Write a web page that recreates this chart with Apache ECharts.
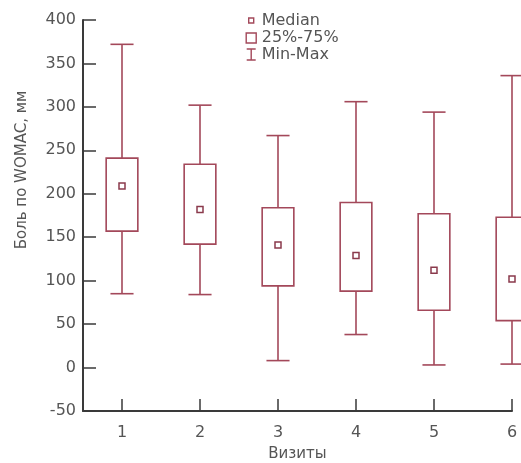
<!DOCTYPE html>
<html>
<head>
<meta charset="utf-8">
<script src="https://cdn.jsdelivr.net/npm/echarts@6/dist/echarts.min.js"></script>
<style>
html,body{margin:0;padding:0;background:#fff;}
#chart{width:521px;height:463px;}
</style>
</head>
<body>
<div id="chart"></div>
<script>
// Data
const visits = [1, 2, 3, 4, 5, 6];
const mins    = [85, 84, 8, 38, 3, 4];
const q1s     = [157, 142, 94, 88, 66, 54];
const medians = [209, 182, 141, 129, 112, 102];
const q3s     = [241, 234, 184, 190, 177, 173];
const maxs    = [372, 302, 267, 306, 294, 336];
const yTicks  = [-50, 0, 50, 100, 150, 200, 250, 300, 350, 400];

const C = '#a3485a';
const TXT = '#555';
const AX = '#3a3a3a';
const FONT = 'DejaVu Sans';

const rows = visits.map((v, i) => [v, mins[i], q1s[i], medians[i], q3s[i], maxs[i]]);

function whiskers(params, api) {
  const x = api.value(0);
  const unit = api.size([1, 0])[0];
  const cap = unit * 0.148;
  const pMin = api.coord([x, api.value(1)]);
  const pQ1 = api.coord([x, api.value(2)]);
  const pQ3 = api.coord([x, api.value(4)]);
  const pMax = api.coord([x, api.value(5)]);
  const st = {stroke: C, lineWidth: 1.6, fill: null};
  return {type: 'group', children: [
    {type: 'line', shape: {x1: pMax[0], y1: pMax[1], x2: pQ3[0], y2: pQ3[1]}, style: st},
    {type: 'line', shape: {x1: pQ1[0], y1: pQ1[1], x2: pMin[0], y2: pMin[1]}, style: st},
    {type: 'line', shape: {x1: pMax[0] - cap, y1: pMax[1], x2: pMax[0] + cap, y2: pMax[1]}, style: st},
    {type: 'line', shape: {x1: pMin[0] - cap, y1: pMin[1], x2: pMin[0] + cap, y2: pMin[1]}, style: st}
  ]};
}
function boxes(params, api) {
  const x = api.value(0);
  const unit = api.size([1, 0])[0];
  const hw = unit * 0.203;
  const pQ1 = api.coord([x, api.value(2)]);
  const pQ3 = api.coord([x, api.value(4)]);
  return {type: 'rect', shape: {x: pQ1[0] - hw, y: pQ3[1], width: hw * 2, height: pQ1[1] - pQ3[1]},
    style: {stroke: C, lineWidth: 1.6, fill: 'rgba(255,255,255,0)'}};
}
function meds(params, api) {
  const x = api.value(0);
  const p = api.coord([x, api.value(3)]);
  const s = 6;
  return {type: 'rect', shape: {x: p[0] - s / 2, y: p[1] - s / 2, width: s, height: s},
    style: {stroke: '#8a3a4c', lineWidth: 1.5, fill: '#fff'}};
}

const chart = echarts.init(document.getElementById('chart'));
const enc = {x: 0, y: [1, 2, 3, 4, 5]};
chart.setOption({
  animation: false,
  backgroundColor: '#fff',
  grid: {left: 83, right: 9, top: 20, bottom: 52, containLabel: false, outerBoundsMode: 'none'},
  legend: {
    left: 245, top: 12, orient: 'vertical', padding: 0, itemGap: 0,
    itemWidth: 11, itemHeight: 12, selectedMode: false,
    textStyle: {fontFamily: FONT, fontSize: 16, lineHeight: 17, color: TXT},
    data: [
      {name: 'Median', icon: 'path://M0,0M3,3.5h5v5h-5zM11,12', itemStyle: {color: 'rgba(255,255,255,0)', borderColor: C, borderWidth: 1.4}},
      {name: '25%-75%', icon: 'path://M0,0M0.5,1.5h10v10h-10zM11,12', itemStyle: {color: 'rgba(255,255,255,0)', borderColor: C, borderWidth: 1.4}},
      {name: 'Min-Max', icon: 'path://M0,0M1,0.5h9M5.5,0.5v11M1,11.5h9M11,12', itemStyle: {color: 'rgba(255,255,255,0)', borderColor: C, borderWidth: 1.4}}
    ]
  },
  xAxis: {
    type: 'value', min: 0.5, max: 6,
    name: 'Визиты', nameLocation: 'middle', nameGap: 36,
    nameTextStyle: {fontFamily: FONT, fontSize: 15, color: TXT},
    splitLine: {show: false},
    axisLine: {show: true, onZero: false, lineStyle: {color: AX, width: 2}},
    axisTick: {show: true, inside: true, length: 12, customValues: visits, lineStyle: {color: AX, width: 1.5}},
    axisLabel: {customValues: visits, margin: 14, fontFamily: FONT, fontSize: 16, color: TXT}
  },
  yAxis: {
    type: 'value', min: -50, max: 400, interval: 50,
    splitLine: {show: false},
    axisLine: {show: true, onZero: false, lineStyle: {color: AX, width: 2}},
    axisTick: {show: true, inside: true, length: 13, customValues: yTicks, lineStyle: {color: AX, width: 1.5}},
    axisLabel: {customValues: yTicks, margin: 7, fontFamily: FONT, fontSize: 16, color: TXT}
  },
  graphic: [{
    type: 'text', x: 22, y: 170, rotation: Math.PI / 2,
    style: {text: 'Боль по WOMAC, мм', font: '15px "DejaVu Sans"', fill: TXT, align: 'center', verticalAlign: 'middle'}
  }],
  series: [
    {name: 'Min-Max', type: 'custom', renderItem: whiskers, data: rows, encode: enc, clip: false, z: 2, itemStyle: {color: C}},
    {name: '25%-75%', type: 'custom', renderItem: boxes, data: rows, encode: enc, clip: false, z: 3, itemStyle: {color: C}},
    {name: 'Median', type: 'custom', renderItem: meds, data: rows, encode: enc, clip: false, z: 4, itemStyle: {color: C}}
  ]
});
</script>
</body>
</html>
